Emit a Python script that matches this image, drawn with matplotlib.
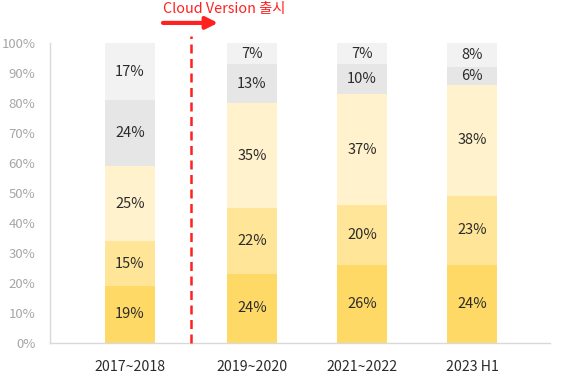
import matplotlib
matplotlib.use("Agg")
import matplotlib.pyplot as plt
from matplotlib.ticker import FuncFormatter

plt.rcParams['font.family'] = ['Noto Sans CJK KR', 'DejaVu Sans']

categories = ["2017~2018", "2019~2020", "2021~2022", "2023 H1"]
# segment heights (bottom to top)
seg1 = [19, 23, 26, 26]
seg2 = [15, 22, 20, 23]
seg3 = [25, 35, 37, 37]
seg4 = [22, 13, 10, 6]
seg5 = [19, 7, 7, 8]
# printed data labels
lab1 = [19, 24, 26, 24]
lab2 = [15, 22, 20, 23]
lab3 = [25, 35, 37, 38]
lab4 = [24, 13, 10, 6]
lab5 = [17, 7, 7, 8]
positions = [0, 1.109, 2.109, 3.109]
divider_x = 0.555
annotation = "Cloud Version 출시"

colors = ["#FFD966", "#FFE597", "#FFF2CC", "#E6E6E6", "#F2F2F2"]
segs = [seg1, seg2, seg3, seg4, seg5]
labs = [lab1, lab2, lab3, lab4, lab5]

fig = plt.figure(figsize=(5.78, 3.80), dpi=100)
ax = fig.add_axes([50/578, 37/380, 500/578, 300/380])

bottoms = [0]*len(categories)
for seg, lab, col in zip(segs, labs, colors):
    ax.bar(positions, seg, bottom=bottoms, width=50/110, color=col, edgecolor='none', zorder=2)
    for x, b, h, l in zip(positions, bottoms, seg, lab):
        ax.text(x, b + h/2, f"{l}%", ha='center', va='center', fontsize=10.5, color='#2b2b2b', zorder=3)
    bottoms = [b + h for b, h in zip(bottoms, seg)]

ax.set_xlim(-80/110, 420/110)
ax.set_ylim(0, 100)
ax.set_yticks(range(0, 101, 10))
ax.yaxis.set_major_formatter(FuncFormatter(lambda v, p: f"{int(v)}%"))
ax.set_xticks(positions)
ax.set_xticklabels(categories)
ax.tick_params(axis='both', length=0)
ax.tick_params(axis='y', labelsize=9.5, labelcolor='#a6a6a6', pad=10.5)
ax.tick_params(axis='x', labelsize=10.2, labelcolor='#2b2b2b', pad=12)
for s in ['top', 'right']:
    ax.spines[s].set_visible(False)
for s in ['left', 'bottom']:
    ax.spines[s].set_color('#d9d9d9')
    ax.spines[s].set_linewidth(1)

# divider
ax.plot([divider_x, divider_x], [0, 102.3], color='#FF2020', lw=1.8,
        linestyle=(0, (3.6, 2.2)), clip_on=False, zorder=4)
ax.annotate("", xy=(0.80, 106.7), xytext=(0.30, 106.7), xycoords='data',
            arrowprops=dict(arrowstyle='-|>,head_length=0.7,head_width=0.35', color='#FF2020', lw=3,
                            shrinkA=0, shrinkB=0), annotation_clip=False)
ax.text(0.30, 110, annotation, ha='left', va='baseline', fontsize=10.3, color='#FF2020', clip_on=False)

fig.savefig("out.png", dpi=100)
